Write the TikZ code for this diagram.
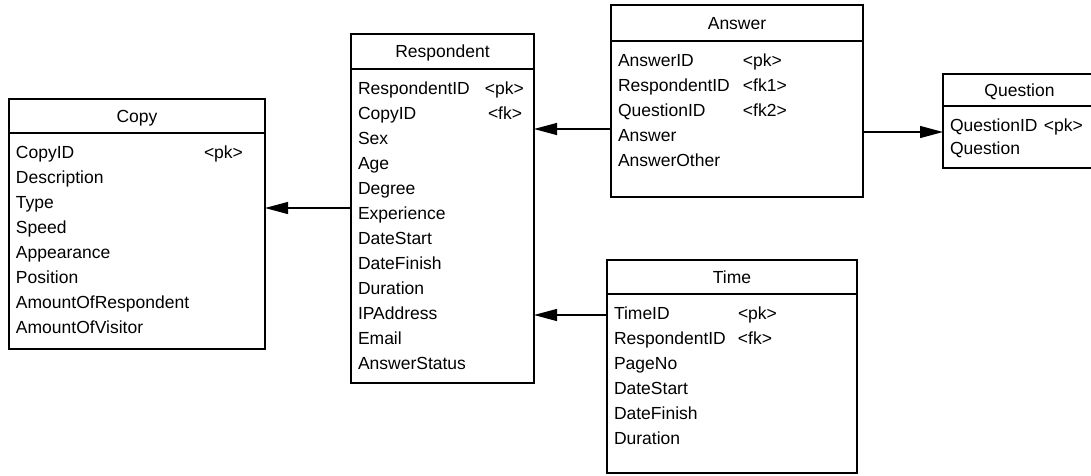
\documentclass[tikz,border=0pt]{standalone}
\usepackage{fontspec}
\setmainfont{Liberation Sans}
\usetikzlibrary{positioning,arrows.meta}

\begin{document}
\begin{tikzpicture}[x=1pt,y=-1pt,node distance=0pt,
        every node/.style={font=\fontsize{17.5}{25}\selectfont,outer sep=0pt,line width=1.2pt},
        head/.style={draw,rectangle,anchor=north west,text height=12.5pt,text depth=0pt},
        body/.style={draw,rectangle,inner xsep=7pt,inner ysep=7.5pt,align=left,text height=17.5pt},
        fk/.style={line width=1.2pt,-{Triangle[length=23pt,width=12pt]}}]
   \useasboundingbox (0,0) rectangle (1091,475);

   % Copy
   \node[head,minimum width=256pt,minimum height=34pt] (copy) at (9,99) {Copy};
   \node[body,below=of copy,text width=242pt,text depth=183.5pt] (copyb) {%
      \begin{tabular}[t]{@{}p{188pt}@{}l@{}}
      CopyID & <pk>\\
      Description\\
      Type\\
      Speed\\
      Appearance\\
      Position\\
      AmountOfRespondent\\
      AmountOfVisitor
      \end{tabular}};

   % Respondent
   \node[head,minimum width=183pt,minimum height=35pt] (res) at (351,34) {Respondent};
   \node[body,below=of res,text width=169pt,text depth=281.5pt] (resb) {%
      \begin{tabular}[t]{@{}p{127pt}@{}l@{}}
      RespondentID & <pk>\\
      CopyID & \hspace{3pt}<fk>\\
      Sex\\
      Age\\
      Degree\\
      Experience\\
      DateStart\\
      DateFinish\\
      Duration\\
      IPAddress\\
      Email\\
      AnswerStatus
      \end{tabular}};

   % Answer
   \node[head,minimum width=252pt,minimum height=36pt] (ans) at (611,5) {Answer};
   \node[body,below=of ans,text width=238pt,text depth=123.5pt] (ansb) {%
      \begin{tabular}[t]{@{}p{125pt}@{}l@{}}
      AnswerID & <pk>\\
      RespondentID & <fk1>\\
      QuestionID & <fk2>\\
      Answer\\
      AnswerOther
      \end{tabular}};

   % Question
   \node[head,minimum width=153pt,minimum height=32pt] (quest) at (943,74) {Question};
   \node[body,below=of quest,text width=139pt,text depth=29.5pt] (questb) {%
      \begin{tabular}[t]{@{}p{94pt}@{}l@{}}
      QuestionID & <pk>\\[-2pt]
      Question
      \end{tabular}};

   % Time
   \node[head,minimum width=250pt,minimum height=34pt] (time) at (607,260) {Time};
   \node[body,below=of time,text width=236pt,text depth=146.5pt] (timeb) {%
      \begin{tabular}[t]{@{}p{124pt}@{}l@{}}
      TimeID & <pk>\\
      RespondentID & <fk>\\
      PageNo\\
      DateStart\\
      DateFinish\\
      Duration
      \end{tabular}};

   % foreign keys
   \draw[fk] ([yshift=18pt]resb.west) coordinate (r1) -- (r1 -| copyb.east);
   \draw[fk] ([yshift=-10pt]ansb.west) coordinate (a1) -- (a1 -| resb.east);
   \draw[fk] ([yshift=-13pt]ansb.east) coordinate (a2) -- (a2 -| questb.west);
   \draw[fk] ([yshift=68.5pt]timeb.west) coordinate (t1) -- (t1 -| resb.east);
\end{tikzpicture}
\end{document}
